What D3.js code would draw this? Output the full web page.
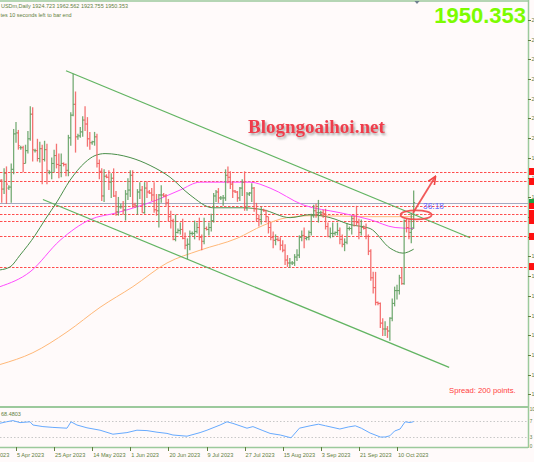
<!DOCTYPE html>
<html>
<head>
<meta charset="utf-8">
<script src="https://cdn.jsdelivr.net/npm/d3@7/dist/d3.min.js"></script>
<style>
  html, body { margin: 0; padding: 0; background: #fffafa; overflow: hidden; }
  svg { display: block; }
</style>
</head>
<body>
<div id="chart"></div>
<script>
// XAUUSDm daily bars, 28 Mar 2023 .. 18 Oct 2023 (Sunday stubs included) [open, high, low, close]
const bars = [
  [1955,1975,1949,1973],[1973,1974,1950,1964],[1964,1985,1959,1980],[1980,1987,1949,1969],
  [1965,1968,1963,1966],[1966,1990,1950,1984],[1984,2025,1979,2020],[2020,2032,2011,2021],[2021,2024,2004,2008],
  [2006,2008,2004,2006],[2006,2008,1981,1990],[1990,2009,1990,2003],[2003,2023,2000,2015],[2015,2048,2013,2040],[2040,2047,1992,2004],
  [2003,2005,2001,2003],[2003,2015,1992,1995],[1995,2012,1991,2005],[2005,2009,1969,1994],[1994,2013,1992,2004],[2004,2010,1969,1983],
  [1981,1983,1979,1981],[1981,1996,1974,1990],[1990,2004,1981,1998],[1998,2010,1985,1989],[1989,2000,1975,1988],[1988,2000,1976,1990],
  [1990,1991,1987,1989],[1989,1990,1977,1983],[1983,2019,1977,2016],[2016,2042,2008,2039],[2039,2081,2038,2050],[2050,2063,2001,2017],
  [2017,2020,2014,2018],[2018,2027,2016,2022],[2022,2038,2017,2034],[2034,2048,2023,2030],[2030,2037,2007,2015],[2015,2022,2004,2011],
  [2011,2013,2009,2012],[2012,2022,2008,2017],[2017,2020,1986,1990],[1990,1994,1974,1982],[1982,1985,1952,1957],[1957,1984,1951,1977],
  [1977,1979,1975,1976],[1976,1983,1963,1971],[1971,1980,1955,1975],[1975,1985,1956,1957],[1957,1962,1937,1941],[1941,1956,1937,1946],
  [1946,1949,1944,1946],[1946,1952,1938,1943],[1943,1963,1932,1959],[1959,1975,1953,1963],[1963,1983,1956,1978],[1978,1983,1945,1948],
  [1948,1950,1945,1947],[1947,1964,1938,1961],[1961,1971,1954,1963],[1963,1967,1940,1940],[1940,1971,1939,1965],[1965,1972,1955,1961],
  [1961,1963,1959,1960],[1960,1965,1952,1958],[1958,1971,1940,1943],[1943,1959,1937,1942],[1942,1959,1925,1958],[1958,1968,1950,1958],
  [1958,1960,1956,1957],[1957,1959,1947,1950],[1950,1954,1931,1936],[1936,1942,1924,1932],[1932,1934,1912,1913],[1913,1938,1911,1920],
  [1920,1924,1919,1922],[1922,1930,1918,1923],[1923,1934,1913,1914],[1914,1920,1903,1907],[1907,1914,1893,1908],[1908,1922,1902,1919],
  [1919,1921,1917,1919],[1919,1932,1913,1921],[1921,1930,1919,1925],[1925,1935,1912,1915],[1915,1918,1902,1911],[1911,1935,1908,1924],
  [1924,1926,1922,1923],[1923,1930,1917,1925],[1925,1939,1921,1932],[1932,1960,1930,1957],[1957,1963,1951,1961],[1961,1965,1950,1955],
  [1955,1957,1953,1955],[1955,1958,1947,1955],[1955,1984,1952,1978],[1978,1987,1970,1976],[1976,1982,1964,1969],[1969,1972,1955,1962],
  [1962,1963,1960,1961],[1961,1962,1951,1955],[1955,1966,1952,1965],[1965,1974,1957,1971],[1971,1982,1942,1945],[1945,1961,1942,1959],
  [1959,1961,1957,1960],[1960,1970,1951,1965],[1965,1966,1941,1944],[1944,1950,1931,1934],[1934,1938,1926,1933],[1933,1946,1928,1943],
  [1943,1944,1941,1942],[1942,1943,1930,1936],[1936,1936,1919,1925],[1925,1930,1912,1915],[1915,1921,1904,1912],[1912,1918,1907,1913],
  [1913,1915,1911,1912],[1912,1915,1902,1907],[1907,1912,1900,1902],[1902,1908,1887,1892],[1892,1897,1885,1889],[1889,1894,1884,1889],
  [1889,1891,1887,1889],[1889,1898,1886,1895],[1895,1903,1891,1897],[1897,1917,1894,1915],[1915,1922,1911,1917],[1917,1925,1904,1914],
  [1914,1916,1912,1915],[1915,1922,1912,1920],[1920,1939,1917,1937],[1937,1948,1935,1942],[1942,1949,1935,1940],[1940,1953,1930,1940],
  [1940,1942,1938,1940],[1940,1943,1935,1939],[1939,1944,1923,1926],[1926,1930,1915,1916],[1916,1925,1914,1919],[1919,1930,1915,1919],
  [1919,1921,1917,1920],[1920,1930,1917,1922],[1922,1925,1908,1913],[1913,1918,1905,1908],[1908,1914,1901,1910],[1910,1929,1908,1924],
  [1924,1926,1922,1924],[1924,1937,1918,1934],[1934,1937,1926,1931],[1931,1947,1927,1930],[1930,1934,1913,1920],[1920,1933,1917,1925],
  [1925,1927,1923,1924],[1924,1929,1913,1916],[1916,1918,1897,1901],[1901,1903,1871,1874],[1874,1880,1858,1864],[1864,1880,1846,1849],
  [1849,1850,1846,1848],[1848,1849,1823,1828],[1828,1833,1815,1822],[1822,1830,1815,1822],[1822,1825,1813,1820],[1820,1834,1810,1833],
  [1833,1853,1830,1848],[1848,1865,1845,1861],[1861,1867,1852,1861],[1861,1877,1857,1874],[1874,1885,1867,1868],[1868,1933,1867,1932],
  [1932,1934,1920,1925],[1925,1933,1913,1920],[1920,1940,1909,1923],[1924.723,1962.562,1923.755,1950.353]
];

// moving averages: [bar index, price]
const maGreen = [[0.3,1882],[4.5,1885],[8.7,1897],[15,1917],[19.2,1933],[24.2,1951],[29.7,1973],[36,1991],[40.2,1998],
  [44.4,2000],[54.9,1996],[63.3,1988],[71.7,1976],[80.1,1958],[89.7,1945],[102.3,1945],[110.7,1943],[122.1,1935],
  [130.5,1938],[138.9,1935],[147.3,1928],[155.7,1924],[164.1,1904],[169.5,1899],[174,1903]];
const maMagenta = [[0.3,1865],[12.9,1880],[25.5,1912],[38.1,1933],[49.4,1940],[66.2,1953],[75.9,1963],[84.3,1971],
  [105.3,1971],[113.7,1965],[127.5,1948],[143.1,1940],[155.7,1933],[166.2,1925],[174,1924]];
const maOrange = [[0.3,1786],[14.1,1798],[28.4,1819],[42.3,1844],[56.1,1865],[70.4,1889],[84.3,1902],[99.8,1914],
  [110.7,1927],[120.8,1935],[131.7,1937],[155.7,1936],[174,1936]];

// channel trend lines [bar index, price]
const channelUpper = [[28, 2084], [197.7, 1914.6]];
const channelLower = [[18.3, 1953.4], [188.9, 1783.1]];

// horizontal levels (red dashed) and current bid
const levels = [1981.8, 1971.7, 1947.3, 1939.2, 1932.1, 1915.9, 1885.4];
const bid = 1950.353;
// right price scale; only the first digit of each label is inside the window
const priceTicks = [2135.7, 2115.7, 2095.7, 2075.7, 2055.7, 2035.7, 2015.7, 1995.7, 1975.7, 1955.7, 1935.7,
  1915.7, 1895.7, 1875.7, 1855.7, 1835.7, 1815.7, 1795.7, 1775.7, 1755.7];

// RSI(14): [bar index, value]
const rsi = [[0,64],[3,68],[5.7,71],[8.7,66],[12.9,68],[14.1,60],[18.3,56],[22.5,54],[28.4,52],[30.1,68],[32.6,60],
  [36.8,53],[42.3,47],[47.7,37],[53.6,41],[57.8,47],[62,46],[66.2,42],[70.4,39],[72.9,35],[78.8,32],[84.3,41],
  [87.2,47],[92.7,60],[95.6,68],[98.1,64],[104,52],[106.5,56],[110.7,46],[113.7,39],[118,35],[122.5,28],[125,45],
  [126,52],[130.5,58],[134,62],[137,58],[143,50],[146.5,55],[149.5,58],[152,52],[155.7,40],[160,30],[162,30],
  [164,33],[166,45],[168.3,50],[170.4,68],[172.5,66],[174,68.5]];
const rsiLevels = [70, 30];
const rsiLabels = [[100, '10'], [70, '7'], [30, '3'], [0, '0']];

// time axis labels [bar index, text]; the first one is cut by the left edge
const dateLabels = [[7,'5 Apr 2023'],[23,'25 Apr 2023'],[39,'14 May 2023'],[55,'1 Jun 2023'],
  [71,'20 Jun 2023'],[87,'9 Jul 2023'],[103,'27 Jul 2023'],[119,'15 Aug 2023'],[135,'3 Sep 2023'],
  [151,'21 Sep 2023'],[167,'10 Oct 2023']];
const cutDateTail = '023';

const W = 534, H = 462;
const plotR = 528, mainTop = 2, mainBot = 406, subTop = 408, subBot = 447;
const axisColor = '#9cc99c', textColor = '#5f7f3f';

const x = d3.scaleLinear().domain([7, 167]).range([16, 397]);
const y = d3.scaleLinear().domain([1743.9, 2153.8]).range([mainBot, mainTop]);
const yr = d3.scaleLinear().domain([0, 100]).range([449, 409]);

const svg = d3.select('#chart').append('svg')
  .attr('width', W).attr('height', H)
  .style('font-family', '"Liberation Sans", Arial, sans-serif');

svg.append('rect').attr('width', W).attr('height', H).attr('fill', '#fffafa');

const defs = svg.append('defs');
defs.append('clipPath').attr('id', 'clipMain').append('rect')
  .attr('x', 0).attr('y', mainTop).attr('width', plotR).attr('height', mainBot - mainTop);
defs.append('clipPath').attr('id', 'clipSub').append('rect')
  .attr('x', 0).attr('y', subTop).attr('width', plotR).attr('height', subBot - subTop);
const shadow = defs.append('filter').attr('id', 'shadow').attr('x', '-10%').attr('y', '-30%')
  .attr('width', '130%').attr('height', '180%');
shadow.append('feDropShadow').attr('dx', 1.5).attr('dy', 2).attr('stdDeviation', 1.3)
  .attr('flood-color', '#555').attr('flood-opacity', 0.55);
defs.append('marker').attr('id', 'arrowHead').attr('viewBox', '0 0 10 10')
  .attr('refX', 8).attr('refY', 5).attr('markerWidth', 5).attr('markerHeight', 5)
  .attr('orient', 'auto')
  .append('path').attr('d', 'M0,1 L9,5 L0,9').attr('fill', 'none')
  .attr('stroke', '#f04848').attr('stroke-width', 1.8);

const main = svg.append('g').attr('clip-path', 'url(#clipMain)');

// levels
main.selectAll('.level').data(levels).join('line')
  .attr('x1', 0).attr('x2', plotR)
  .attr('y1', d => Math.round(y(d)) + 0.5).attr('y2', d => Math.round(y(d)) + 0.5)
  .attr('stroke', '#ff4d4d').attr('stroke-width', 1).attr('stroke-dasharray', '2.5,1.5');
main.append('line')
  .attr('x1', 0).attr('x2', plotR)
  .attr('y1', Math.round(y(bid)) + 0.5).attr('y2', Math.round(y(bid)) + 0.5)
  .attr('stroke', '#a3aac2').attr('stroke-width', 1);

// moving averages
const maLine = d3.line().x(d => x(d[0])).y(d => y(d[1])).curve(d3.curveMonotoneX);
[[maOrange, '#ffb878'], [maMagenta, '#ff4cff'], [maGreen, '#4a8f4a']].forEach(([data, col]) => {
  main.append('path').datum(data).attr('d', maLine)
    .attr('fill', 'none').attr('stroke', col).attr('stroke-width', 1);
});

// channel
[channelUpper, channelLower].forEach(c => {
  main.append('line')
    .attr('x1', x(c[0][0])).attr('y1', y(c[0][1]))
    .attr('x2', x(c[1][0])).attr('y2', y(c[1][1]))
    .attr('stroke', '#62b462').attr('stroke-width', 1.2);
});

// OHLC bars
const bar = main.selectAll('.bar').data(bars).join('g')
  .attr('stroke', d => d[3] >= d[0] ? '#5e9e5e' : '#f25a5a')
  .attr('stroke-width', 1.3)
  .attr('stroke-opacity', 0.85);
bar.append('line')
  .attr('x1', (d, i) => x(i)).attr('x2', (d, i) => x(i))
  .attr('y1', d => y(d[1])).attr('y2', d => y(d[2]));
bar.append('line')
  .attr('x1', (d, i) => x(i) - 1.5).attr('x2', (d, i) => x(i))
  .attr('y1', d => y(d[0])).attr('y2', d => y(d[0])).attr('stroke-width', 1);
bar.append('line')
  .attr('x1', (d, i) => x(i)).attr('x2', (d, i) => x(i) + 1.5)
  .attr('y1', d => y(d[3])).attr('y2', d => y(d[3])).attr('stroke-width', 1);

// annotation: ellipse around the break and arrow up
const circleAt = [175, 1937.8];
const arrowFrom = [173.7, 1939.7], arrowTo = [183, 1976.2];
main.append('ellipse')
  .attr('cx', x(circleAt[0])).attr('cy', y(circleAt[1]))
  .attr('rx', 15.5).attr('ry', 4.5)
  .attr('fill', 'none').attr('stroke', '#f04848').attr('stroke-width', 1.8).attr('stroke-opacity', 0.9);
main.append('line')
  .attr('x1', x(arrowFrom[0])).attr('y1', y(arrowFrom[1]))
  .attr('x2', x(arrowTo[0])).attr('y2', y(arrowTo[1]))
  .attr('stroke', '#f04848').attr('stroke-width', 1.8).attr('stroke-opacity', 0.9)
  .attr('marker-end', 'url(#arrowHead)');

// timer near last bar
svg.append('text').attr('x', 423).attr('y', 209)
  .attr('font-size', 8.4).attr('fill', '#6a6aff').text('36:18');

// watermark
svg.append('text').attr('x', 248).attr('y', 133)
  .attr('font-family', '"Liberation Serif", "DejaVu Serif", serif')
  .attr('font-weight', 'bold').attr('font-size', 19)
  .attr('fill', '#ef3d4c').attr('filter', 'url(#shadow)')
  .text('Blogngoaihoi.net');

// header (the window cuts the start of both lines)
svg.append('text').attr('x', 1).attr('y', 8).attr('font-size', 6).attr('fill', textColor)
  .attr('textLength', 127).attr('lengthAdjust', 'spacingAndGlyphs')
  .text('USDm,Daily  1924.723 1962.562 1923.755 1950.353');
svg.append('text').attr('x', 0.5).attr('y', 16.5).attr('font-size', 6).attr('fill', textColor)
  .attr('textLength', 71).attr('lengthAdjust', 'spacingAndGlyphs')
  .text('tes 10 seconds left to bar end');

// big price
svg.append('text').attr('x', 526).attr('y', 23).attr('text-anchor', 'end')
  .attr('font-size', 22).attr('font-weight', 'bold').attr('fill', '#7cfc00')
  .text('1950.353');

// spread
svg.append('text').attr('x', 449).attr('y', 393).attr('font-size', 7.7).attr('fill', '#ff4040')
  .text('Spread: 200 points.');

// frame
svg.append('line').attr('x1', 0).attr('x2', plotR).attr('y1', 1).attr('y2', 1)
  .attr('stroke', axisColor).attr('stroke-width', 1.5);
svg.append('path').attr('d', 'M414.5,1 L419.5,1 L417,4 Z').attr('fill', '#6f7f8f');
svg.append('rect').attr('x', 0).attr('y', mainBot).attr('width', plotR).attr('height', subTop - mainBot)
  .attr('fill', axisColor);
svg.append('line').attr('x1', 0).attr('x2', plotR).attr('y1', subBot + 0.5).attr('y2', subBot + 0.5)
  .attr('stroke', axisColor).attr('stroke-width', 1.5);
svg.append('line').attr('x1', plotR + 0.5).attr('x2', plotR + 0.5).attr('y1', 0).attr('y2', subBot + 1)
  .attr('stroke', axisColor).attr('stroke-width', 1.5);

// right price axis
const pt = svg.append('g');
pt.selectAll('line').data(priceTicks).join('line')
  .attr('x1', plotR).attr('x2', plotR + 3)
  .attr('y1', d => Math.round(y(d)) + 0.5).attr('y2', d => Math.round(y(d)) + 0.5)
  .attr('stroke', textColor).attr('stroke-width', 1);
pt.selectAll('text').data(priceTicks).join('text')
  .attr('x', plotR + 3.5).attr('y', d => y(d) + 2)
  .attr('font-size', 5.5).attr('fill', textColor)
  .text(d => d.toFixed(2).charAt(0));
svg.selectAll('.lvlTag').data(levels).join('rect')
  .attr('x', plotR + 1).attr('y', d => y(d) - 3.5).attr('width', 8).attr('height', 7)
  .attr('fill', '#ff1010');
svg.append('rect').attr('x', plotR + 1).attr('y', y(bid) - 3.5).attr('width', 8).attr('height', 4)
  .attr('fill', '#1f9f3f');

// RSI panel
const sub = svg.append('g').attr('clip-path', 'url(#clipSub)');
sub.selectAll('.rl').data(rsiLevels).join('line')
  .attr('x1', 0).attr('x2', plotR)
  .attr('y1', d => Math.round(yr(d)) + 0.5).attr('y2', d => Math.round(yr(d)) + 0.5)
  .attr('stroke', '#c8c8c8').attr('stroke-width', 1).attr('stroke-dasharray', '1.5,2');
sub.append('path').datum(rsi)
  .attr('d', d3.line().x(d => x(d[0])).y(d => yr(d[1])))
  .attr('fill', 'none').attr('stroke', '#66aaff').attr('stroke-width', 1);
svg.append('text').attr('x', 1).attr('y', 416).attr('font-size', 5.5).attr('fill', textColor)
  .text('68.4803');
svg.selectAll('.rlab').data(rsiLabels).join('text')
  .attr('x', plotR + 1.8).attr('y', d => Math.min(yr(d[0]), 446) + 2)
  .attr('font-size', 4.6).attr('fill', textColor)
  .text(d => d[1]);

// time axis
const tx = svg.append('g');
tx.selectAll('line').data(dateLabels).join('line')
  .attr('x1', d => Math.round(x(d[0])) + 0.5).attr('x2', d => Math.round(x(d[0])) + 0.5)
  .attr('y1', subBot).attr('y2', subBot + 4)
  .attr('stroke', textColor).attr('stroke-width', 1);
tx.selectAll('text').data(dateLabels).join('text')
  .attr('x', d => x(d[0]) + 1).attr('y', 457)
  .attr('font-size', 5.6).attr('fill', textColor)
  .text(d => d[1]);
svg.append('text').attr('x', 0).attr('y', 457).attr('font-size', 5.6).attr('fill', textColor)
  .text(cutDateTail);
</script>
</body>
</html>
